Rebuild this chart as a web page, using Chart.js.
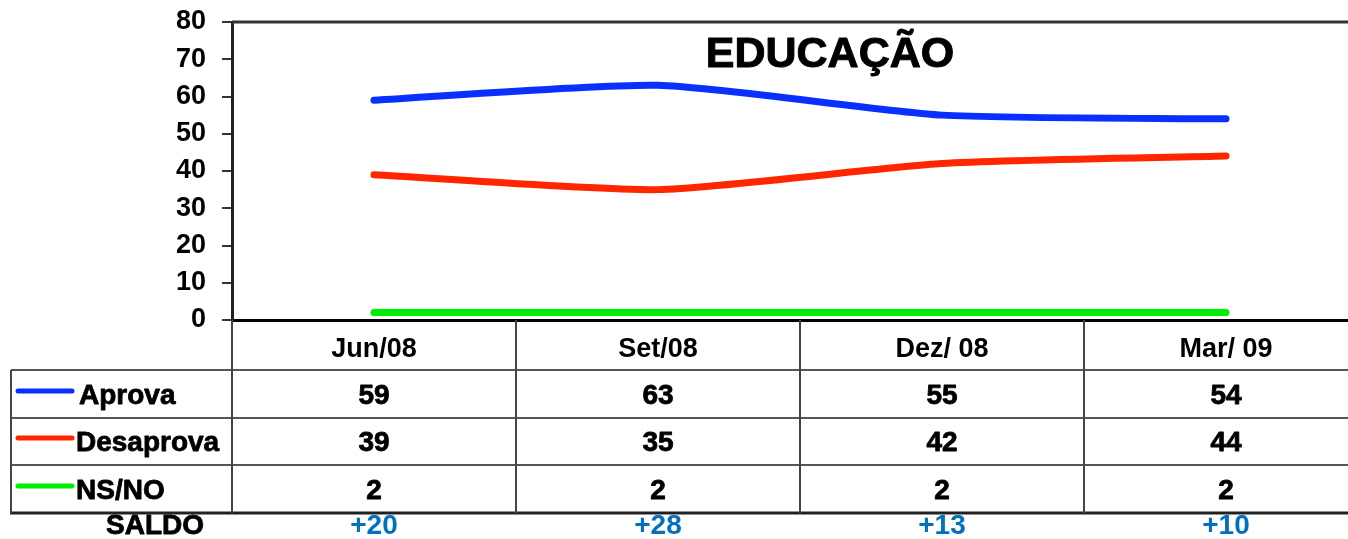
<!DOCTYPE html>
<html>
<head>
<meta charset="utf-8">
<script src="https://cdn.jsdelivr.net/npm/chart.js@4/dist/chart.umd.min.js"></script>
<style>
  html, body { margin: 0; padding: 0; background: #fff; overflow: hidden; }
  #wrap { position: relative; width: 1368px; height: 539px; }
</style>
</head>
<body>
<div id="wrap"><canvas id="chart"></canvas></div>
<script>
'use strict';

var categories = ['Jun/08', 'Set/08', 'Dez/ 08', 'Mar/ 09'];
var aprova = [59, 63, 55, 54];
var desaprova = [39, 35, 42, 44];
var nsno = [2, 2, 2, 2];
var saldo = ['+20', '+28', '+13', '+10'];
var seriesNames = ['Aprova', 'Desaprova', 'NS/NO'];
var seriesColors = ['#0a30ff', '#ff2600', '#00ee00'];
var chartTitle = 'EDUCAÇÃO';

var FONT = '"Liberation Sans", Arial, sans-serif';

// table under the plot, drawn after the chart
var tablePlugin = {
  id: 'tablePlugin',
  afterDraw: function(chart) {
    var ctx = chart.ctx;
    var area = chart.chartArea;
    var xs = chart.scales.x;
    var rowLines = [370, 418, 465, 513];
    var rowCenters = [396, 443, 491];
    var right = chart.width;
    var half = (xs.getPixelForValue(1) - xs.getPixelForValue(0)) / 2;

    ctx.save();

    // top border of plot
    ctx.strokeStyle = '#333';
    ctx.lineWidth = 3;
    ctx.beginPath();
    ctx.moveTo(area.left, area.top);
    ctx.lineTo(right, area.top);
    ctx.stroke();

    // horizontal table lines
    ctx.strokeStyle = '#555';
    ctx.lineWidth = 2;
    for (var r = 0; r < 3; r++) {
      ctx.beginPath();
      ctx.moveTo(11, rowLines[r]);
      ctx.lineTo(right, rowLines[r]);
      ctx.stroke();
    }
    ctx.strokeStyle = '#222';
    ctx.lineWidth = 3;
    ctx.beginPath();
    ctx.moveTo(10, rowLines[3]);
    ctx.lineTo(right, rowLines[3]);
    ctx.stroke();

    // vertical table lines
    ctx.strokeStyle = '#444';
    ctx.lineWidth = 2;
    ctx.beginPath();
    ctx.moveTo(11, rowLines[0]);
    ctx.lineTo(11, rowLines[3]);
    ctx.stroke();
    for (var i = 0; i < categories.length; i++) {
      var xl = xs.getPixelForValue(i) - half;
      ctx.beginPath();
      ctx.moveTo(xl, area.bottom);
      ctx.lineTo(xl, rowLines[3]);
      ctx.stroke();
    }

    // legend keys and names
    var values = [aprova, desaprova, nsno];
    ctx.font = 'bold 28px ' + FONT;
    ctx.textBaseline = 'middle';
    ctx.lineJoin = 'round';
    for (var s = 0; s < 3; s++) {
      ctx.strokeStyle = seriesColors[s];
      ctx.lineWidth = 5;
      ctx.lineCap = 'round';
      ctx.beginPath();
      ctx.moveTo(18, rowCenters[s] - 5);
      ctx.lineTo(72, rowCenters[s] - 5);
      ctx.stroke();

      ctx.fillStyle = '#000';
      ctx.strokeStyle = '#000';
      ctx.lineWidth = 0.8;
      ctx.textAlign = 'left';
      ctx.fillText(seriesNames[s], s === 0 ? 79 : 76, rowCenters[s]);
      ctx.strokeText(seriesNames[s], s === 0 ? 79 : 76, rowCenters[s]);

      ctx.textAlign = 'center';
      for (var j = 0; j < categories.length; j++) {
        ctx.fillText(String(values[s][j]), xs.getPixelForValue(j), rowCenters[s]);
        ctx.strokeText(String(values[s][j]), xs.getPixelForValue(j), rowCenters[s]);
      }
    }

    // saldo row
    ctx.fillStyle = '#000';
    ctx.textAlign = 'center';
    ctx.fillText('SALDO', 155, 526);
    ctx.strokeText('SALDO', 155, 526);
    ctx.fillStyle = '#0070c0';
    for (var k = 0; k < saldo.length; k++) {
      ctx.fillText(saldo[k], xs.getPixelForValue(k), 526);
    }

    // title
    ctx.fillStyle = '#000';
    ctx.font = 'bold 43px ' + FONT;
    ctx.fillText(chartTitle, 830, 55);
    ctx.lineWidth = 1;
    ctx.strokeText(chartTitle, 830, 55);

    ctx.restore();
  }
};

var ctx = document.getElementById('chart').getContext('2d');

new Chart(ctx, {
  type: 'line',
  data: {
    labels: categories,
    datasets: [
      { label: seriesNames[0], data: aprova, borderColor: seriesColors[0] },
      { label: seriesNames[1], data: desaprova, borderColor: seriesColors[1] },
      { label: seriesNames[2], data: nsno, borderColor: seriesColors[2] }
    ]
  },
  options: {
    responsive: true,
    maintainAspectRatio: false,
    animation: false,
    layout: { padding: { top: 22, left: 0, right: 0, bottom: 0 } },
    elements: {
      line: { borderWidth: 7, tension: 0.2, borderCapStyle: 'round', borderJoinStyle: 'round' },
      point: { radius: 0, hoverRadius: 0 }
    },
    plugins: {
      legend: { display: false },
      tooltip: { enabled: false },
      title: { display: false }
    },
    scales: {
      x: {
        offset: true,
        grid: { display: false },
        border: { display: true, color: '#000', width: 3 },
        ticks: {
          color: '#000',
          padding: 5,
          font: { family: FONT, size: 27, weight: 'bold' }
        },
        afterFit: function(scale) {
          scale.height = 219;
          scale.paddingLeft = 0;
          scale.paddingRight = 0;
        }
      },
      y: {
        min: 0,
        max: 80,
        ticks: {
          stepSize: 10,
          color: '#000',
          padding: 16,
          font: { family: FONT, size: 27, weight: 'bold' }
        },
        grid: { drawOnChartArea: false, drawTicks: true, tickLength: 10, color: '#333', lineWidth: 2 },
        border: { display: true, color: '#222', width: 3 },
        afterFit: function(scale) {
          scale.width = 232;
          scale.paddingTop = 0;
          scale.paddingBottom = 0;
        }
      }
    }
  },
  plugins: [tablePlugin]
});
</script>
</body>
</html>
